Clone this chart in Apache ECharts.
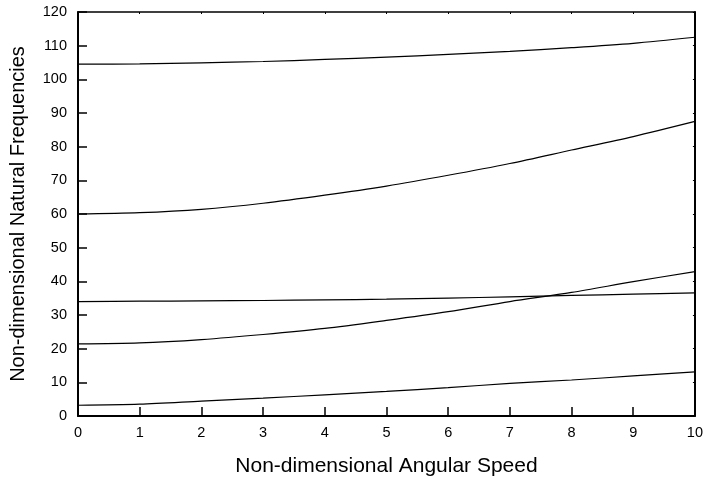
<!DOCTYPE html>
<html><head><meta charset="utf-8">
<script src="https://cdn.jsdelivr.net/npm/echarts@6/dist/echarts.min.js"></script>
<style>html,body{margin:0;padding:0;background:#fff}#c{width:706px;height:484px}</style>
</head><body><div id="c"></div>
<script>
const speeds = [0,1,2,3,4,5,6,7,8,9,10];
const mode1 = [3.2,3.5,4.4,5.3,6.3,7.3,8.4,9.7,10.7,11.9,13.1];
const mode2 = [21.4,21.7,22.7,24.2,26.0,28.4,31.0,34.0,36.7,39.9,42.9];
const mode3 = [34.0,34.1,34.2,34.3,34.5,34.7,35.0,35.4,35.8,36.2,36.6];
const mode4 = [60.0,60.4,61.4,63.2,65.6,68.3,71.5,75.0,79.0,83.0,87.5];
const mode5 = [104.5,104.6,104.9,105.3,105.9,106.6,107.4,108.3,109.4,110.7,112.5];
const xTitle = 'Non-dimensional Angular Speed';
const yTitle = 'Non-dimensional Natural Frequencies';

const modes = [mode1, mode2, mode3, mode4, mode5];
const font = 'Liberation Sans, Arial, sans-serif';
const chart = echarts.init(document.getElementById('c'));
chart.setOption({
  animation: false,
  backgroundColor: '#fff',
  grid: {left: 76, top: 12, right: 8.5, bottom: 68, containLabel: false},
  xAxis: [{
    type: 'value', min: 0, max: 10, interval: 1,
    name: xTitle, nameLocation: 'middle', nameGap: 40,
    nameTextStyle: {fontFamily: font, fontSize: 21, color: '#000'},
    axisLine: {onZero: false, lineStyle: {color: '#000', width: 2}},
    axisTick: {inside: true, length: 9, lineStyle: {color: '#000', width: 1.5}},
    axisLabel: {fontFamily: font, fontSize: 14.5, color: '#000', margin: 9},
    splitLine: {show: false}
  }, {
    type: 'value', min: 0, max: 10, interval: 1, position: 'top',
    axisLine: {onZero: false, lineStyle: {color: '#000', width: 1.5}},
    axisTick: {inside: true, length: 2, lineStyle: {color: '#000'}},
    axisLabel: {show: false}, splitLine: {show: false}
  }],
  yAxis: [{
    type: 'value', min: 0, max: 120, interval: 10,
    name: yTitle, nameLocation: 'middle', nameGap: 50, nameRotate: 90,
    nameTextStyle: {fontFamily: font, fontSize: 20, color: '#000'},
    axisLine: {show: true, onZero: false, lineStyle: {color: '#000', width: 2}},
    axisTick: {show: true, inside: true, length: 9, lineStyle: {color: '#000', width: 1.5}},
    axisLabel: {fontFamily: font, fontSize: 14.5, color: '#000', margin: 11},
    splitLine: {show: false}
  }, {
    type: 'value', min: 0, max: 120, interval: 10, position: 'right',
    axisLine: {show: true, onZero: false, lineStyle: {color: '#000', width: 2}},
    axisTick: {show: true, inside: true, length: 2, lineStyle: {color: '#000'}},
    axisLabel: {show: false}, splitLine: {show: false}
  }],
  series: modes.map(m => ({
    type: 'line', smooth: 0.3, symbol: 'none',
    data: speeds.map((s, i) => [s, m[i]]),
    lineStyle: {color: '#000', width: 1.2}
  }))
});
</script></body></html>
